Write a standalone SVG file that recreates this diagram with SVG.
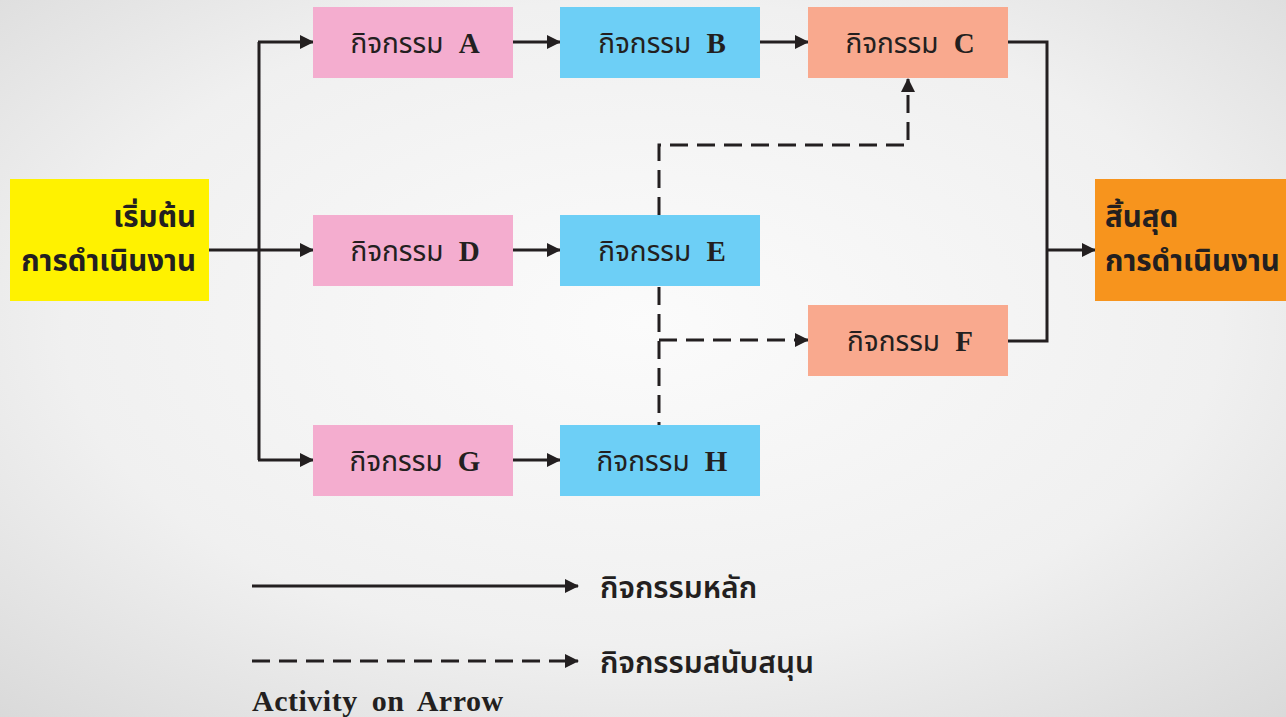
<svg xmlns="http://www.w3.org/2000/svg" width="1286" height="717" viewBox="0 0 1286 717">
<defs>
<radialGradient id="bg" cx="50%" cy="45%" r="75%">
<stop offset="0" stop-color="#fbfbfb"/>
<stop offset="0.6" stop-color="#f0f0f0"/>
<stop offset="1" stop-color="#d9d9d9"/>
</radialGradient>
<marker id="ah" viewBox="0 0 14 14" refX="13" refY="7" markerWidth="14" markerHeight="14" markerUnits="userSpaceOnUse" orient="auto">
<path d="M0,0 L14,7 L0,14 Z" fill="#231f20"/>
</marker>
</defs>
<style>
.main{fill:none;stroke:#231f20;stroke-width:3}
.dash{fill:none;stroke:#231f20;stroke-width:3;stroke-dasharray:18 9}
.lbl{font-family:"Noto Sans Thai","Noto Sans","DejaVu Sans",sans-serif;font-size:28px;fill:#231f20;text-anchor:middle;word-spacing:8px}
.lbl tspan.l{font-family:"Liberation Serif",serif;font-weight:bold;font-size:29px}
.big{font-family:"Noto Sans Thai","Noto Sans","DejaVu Sans",sans-serif;font-size:29.5px;font-weight:bold;fill:#231f20}
.leg{font-family:"Noto Sans Thai","Noto Sans","DejaVu Sans",sans-serif;font-size:30px;font-weight:600;fill:#231f20}
.pink{fill:#f4adcf}
.blue{fill:#6dcff6}
.salmon{fill:#f9a98e}
</style>
<rect width="1286" height="717" fill="url(#bg)"/>
<g id="connectors">
<line class="main" x1="209" y1="250" x2="313" y2="250" marker-end="url(#ah)"/>
<line class="main" x1="259" y1="42" x2="259" y2="460"/>
<line class="main" x1="258" y1="42" x2="313" y2="42" marker-end="url(#ah)"/>
<line class="main" x1="258" y1="460" x2="313" y2="460" marker-end="url(#ah)"/>
<line class="main" x1="513" y1="42" x2="560" y2="42" marker-end="url(#ah)"/>
<line class="main" x1="760" y1="42" x2="808" y2="42" marker-end="url(#ah)"/>
<line class="main" x1="513" y1="250" x2="560" y2="250" marker-end="url(#ah)"/>
<line class="main" x1="513" y1="460" x2="560" y2="460" marker-end="url(#ah)"/>
<polyline class="main" points="1008,42 1047,42 1047,341 1008,341"/>
<line class="main" x1="1047" y1="250" x2="1095" y2="250" marker-end="url(#ah)"/>
<polyline class="dash" points="659,215 659,145 908,145 908,79" marker-end="url(#ah)"/>
<line class="dash" x1="659" y1="287" x2="659" y2="425"/>
<line class="dash" x1="659" y1="340" x2="808" y2="340" marker-end="url(#ah)"/>
</g>
<g id="start">
<rect x="10" y="179" width="199" height="122" fill="#fff200"/>
<text class="big" text-anchor="end"><tspan x="196" y="227">เริ่มต้น</tspan><tspan x="196" y="271">การดำเนินงาน</tspan></text>
</g>
<g id="end">
<rect x="1095" y="179" width="191" height="122" fill="#f7941d"/>
<text class="big"><tspan x="1105" y="227">สิ้นสุด</tspan><tspan x="1105" y="271">การดำเนินงาน</tspan></text>
</g>
<g id="nodeA"><rect class="pink" x="313" y="7" width="200" height="71"/><text class="lbl" x="415" y="53">กิจกรรม <tspan class="l">A</tspan></text></g>
<g id="nodeB"><rect class="blue" x="560" y="7" width="200" height="71"/><text class="lbl" x="662" y="53">กิจกรรม <tspan class="l">B</tspan></text></g>
<g id="nodeC"><rect class="salmon" x="808" y="7" width="200" height="71"/><text class="lbl" x="910" y="53">กิจกรรม <tspan class="l">C</tspan></text></g>
<g id="nodeD"><rect class="pink" x="313" y="215" width="200" height="71"/><text class="lbl" x="415" y="261">กิจกรรม <tspan class="l">D</tspan></text></g>
<g id="nodeE"><rect class="blue" x="560" y="215" width="200" height="71"/><text class="lbl" x="662" y="261">กิจกรรม <tspan class="l">E</tspan></text></g>
<g id="nodeF"><rect class="salmon" x="808" y="305" width="200" height="71"/><text class="lbl" x="910" y="351">กิจกรรม <tspan class="l">F</tspan></text></g>
<g id="nodeG"><rect class="pink" x="313" y="425" width="200" height="71"/><text class="lbl" x="415" y="471">กิจกรรม <tspan class="l">G</tspan></text></g>
<g id="nodeH"><rect class="blue" x="560" y="425" width="200" height="71"/><text class="lbl" x="662" y="471">กิจกรรม <tspan class="l">H</tspan></text></g>
<g id="legend">
<line class="main" x1="252" y1="586" x2="578" y2="586" marker-end="url(#ah)"/>
<text class="leg" x="600" y="598">กิจกรรมหลัก</text>
<line class="dash" x1="252" y1="661" x2="578" y2="661" marker-end="url(#ah)"/>
<text class="leg" x="600" y="673">กิจกรรมสนับสนุน</text>
<text x="252" y="711" font-family="Liberation Serif, serif" font-weight="bold" font-size="30" letter-spacing="0.5" word-spacing="6" fill="#231f20">Activity on Arrow</text>
</g>
</svg>
